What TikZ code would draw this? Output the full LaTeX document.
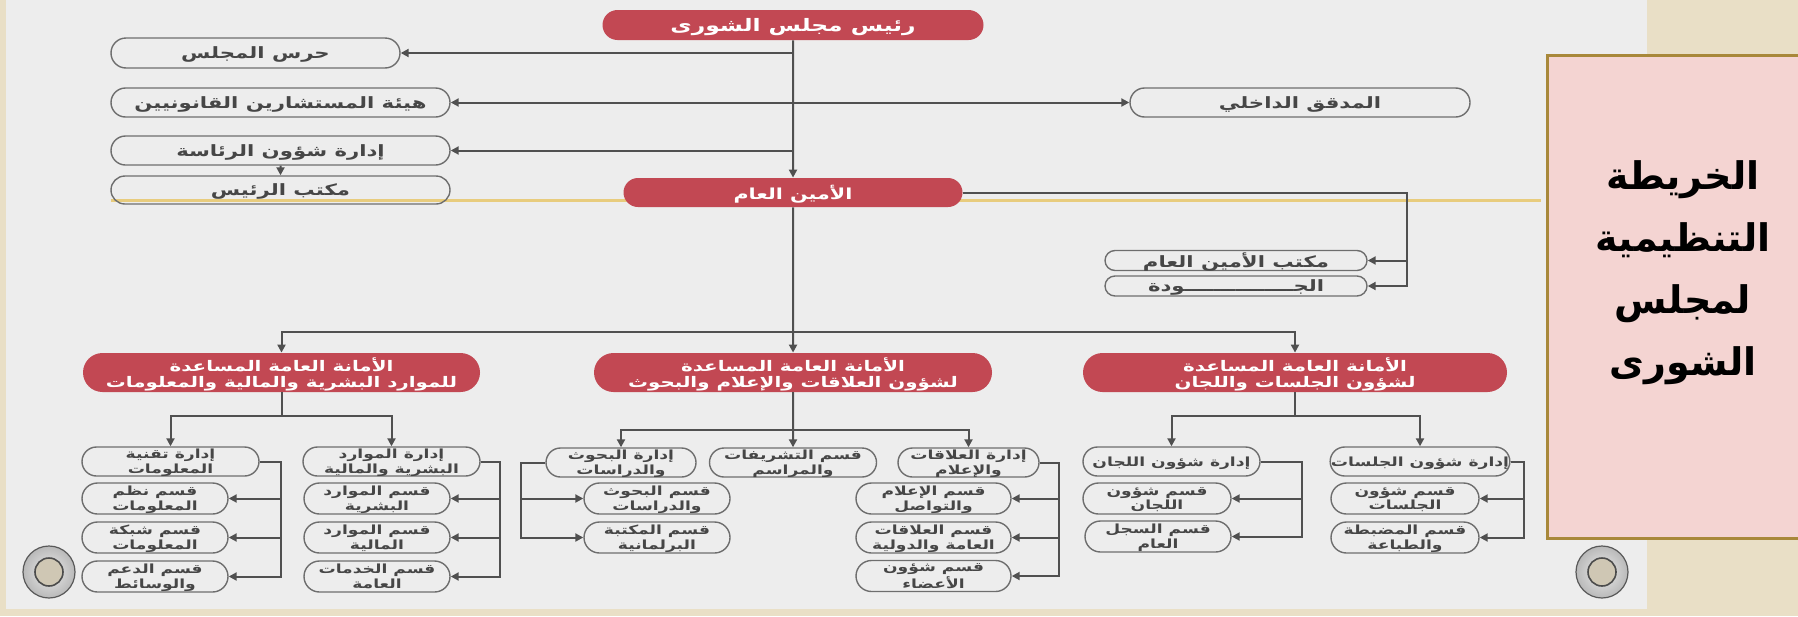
\documentclass[tikz,border=0pt]{standalone}
\usepackage{fontspec}
\TeXXeTstate=1
\newfontfamily\arabicfont[Script=Arabic,FakeStretch=1.36]{DejaVu Sans Bold}
\newfontfamily\titlefont[Script=Arabic]{DejaVu Sans}
\usetikzlibrary{arrows.meta,shapes.misc}
\newcommand{\ar}[1]{\beginR #1\endR}
\definecolor{canvas}{RGB}{237,237,237}
\definecolor{beige}{RGB}{233,223,198}
\definecolor{linegray}{RGB}{80,80,80}
\definecolor{boxgray}{RGB}{110,110,110}
\definecolor{textgray}{RGB}{70,70,70}
\definecolor{redbox}{RGB}{194,72,83}
\definecolor{pinkbox}{RGB}{244,212,210}
\definecolor{goldbrown}{RGB}{168,136,58}
\definecolor{goldline}{RGB}{232,204,125}
\begin{document}
\begin{tikzpicture}[x=0.5pt, y=-0.5pt,
  line/.style={draw=linegray, line width=1pt},
  conn/.style={line, -{Triangle[length=4pt,width=4pt]}},
  conn2/.style={line, {Triangle[length=4pt,width=4pt]}-{Triangle[length=4pt,width=4pt]}},
  box/.style={rounded rectangle, draw=boxgray, line width=0.7pt, inner sep=0pt, text depth=0pt, text=textgray, align=center, font=\arabicfont\fontsize{6.3}{6.3}\selectfont},
  big box/.style={box, font=\arabicfont\fontsize{7.8}{8}\selectfont},
  red node/.style={rounded rectangle, fill=redbox, inner sep=0pt, text depth=0pt, text=white, align=center, font=\arabicfont\fontsize{7.3}{7.7}\selectfont},
  wd/.style={minimum width=#1*0.5pt},
  ht/.style={minimum height=#1*0.5pt}]
\useasboundingbox (0,0) rectangle (1798,616);
% background
\fill[beige] (0,0) rectangle (1798,616);
\fill[canvas] (6,0) rectangle (1647,609);
\draw[goldline, line width=1.5pt] (111,200) -- (1541,200);
\draw[fill=pinkbox, draw=goldbrown, line width=1.5pt] (1547,55) rectangle (1802,538);
\node[font=\titlefont\bfseries\fontsize{19}{31}\selectfont, align=center] (title) at (1683,273) {\ar{الخريطة}\\\ar{التنظيمية}\\\ar{لمجلس}\\\ar{الشورى}};
\foreach \gx/\gy in {49/572, 1602/572} {
  \shade[inner color=gray!15, outer color=gray!55, draw=gray!70!black, line width=0.6pt] (\gx,\gy) circle (13pt);
  \draw[fill=beige!75!gray, draw=gray!60!black, line width=0.8pt] (\gx,\gy) circle (7pt);
}
% president and general secretary
\begin{scope}
\node[red node, wd=381, ht=30, font=\arabicfont\fontsize{8.6}{9}\selectfont] (pres) at (793,25) {\ar{رئيس مجلس الشورى}};
\node[big box, wd=289, ht=30] (guard) at (255.5,53) {\ar{حرس المجلس}};
\node[big box, wd=339, ht=29] (legal) at (280.5,102.5) {\ar{هيئة المستشارين القانونيين}};
\node[big box, wd=339, ht=29] (presaff) at (280.5,150.5) {\ar{إدارة شؤون الرئاسة}};
\node[big box, wd=339, ht=28] (presoff) at (280.5,190) {\ar{مكتب الرئيس}};
\node[big box, wd=340, ht=29] (audit) at (1300,102.5) {\ar{المدقق الداخلي}};
\node[red node, wd=339, ht=29, font=\arabicfont\fontsize{7.6}{8}\selectfont] (sg) at (793,192.5) {\ar{الأمين العام}};
\node[big box, wd=262, ht=20] (sgoff) at (1236,260.5) {\ar{مكتب الأمين العام}};
\node[big box, wd=262, ht=20] (quality) at (1236,286) {\ar{الجـــــــــــــــودة}};
\end{scope}
\draw[conn] (pres) -- (sg);
\draw[conn] (pres.south |- guard.east) -- (guard.east);
\draw[conn2] (legal.east) -- (audit.west);
\draw[conn] (pres.south |- presaff.east) -- (presaff.east);
\draw[conn] (presaff) -- (presoff);
\coordinate (sgx) at (1407,192.5);
\draw[conn] (sg.east) -- (sgx) |- (quality.east);
\draw[conn] (sgx |- sgoff.east) -- (sgoff.east);
% assistant secretariats
\node[red node, wd=397, ht=39] (hr) at (281.5,372.5) {\ar{الأمانة العامة المساعدة}\\\ar{للموارد البشرية والمالية والمعلومات}};
\node[red node, wd=398, ht=39] (media) at (793,372.5) {\ar{الأمانة العامة المساعدة}\\\ar{لشؤون العلاقات والإعلام والبحوث}};
\node[red node, wd=424, ht=39] (sess) at (1295,372.5) {\ar{الأمانة العامة المساعدة}\\\ar{لشؤون الجلسات واللجان}};
\coordinate (bus) at (793,332);
\draw[conn] (sg) -- (media);
\draw[conn] (bus) -| (hr.north);
\draw[conn] (bus) -| (sess.north);
% human resources
\node[box, wd=177, ht=29] (it) at (170.5,461.5) {\ar{إدارة تقنية}\\\ar{المعلومات}};
\node[box, wd=146, ht=31] (it1) at (155,498.5) {\ar{قسم نظم}\\\ar{المعلومات}};
\node[box, wd=146, ht=31] (it2) at (155,537.5) {\ar{قسم شبكة}\\\ar{المعلومات}};
\node[box, wd=146, ht=31] (it3) at (155,576.5) {\ar{قسم الدعم}\\\ar{والوسائط}};
\node[box, wd=177, ht=29] (fin) at (391.5,461.5) {\ar{إدارة الموارد}\\\ar{البشرية والمالية}};
\node[box, wd=146, ht=31] (fin1) at (377,498.5) {\ar{قسم الموارد}\\\ar{البشرية}};
\node[box, wd=146, ht=31] (fin2) at (377,537.5) {\ar{قسم الموارد}\\\ar{المالية}};
\node[box, wd=146, ht=31] (fin3) at (377,576.5) {\ar{قسم الخدمات}\\\ar{العامة}};
\draw[conn] (hr.south) -- ++(0,24) -| (it.north);
\draw[conn] (hr.south) -- ++(0,24) -| (fin.north);
\draw[conn] (it.east) -- ++(21,0) |- (it1.east);
\draw[conn] (it.east) -- ++(21,0) |- (it2.east);
\draw[conn] (it.east) -- ++(21,0) |- (it3.east);
\draw[conn] (fin.east) -- ++(19,0) |- (fin1.east);
\draw[conn] (fin.east) -- ++(19,0) |- (fin2.east);
\draw[conn] (fin.east) -- ++(19,0) |- (fin3.east);
% relations, media and research
\node[box, wd=150, ht=29] (res) at (621,462.5) {\ar{إدارة البحوث}\\\ar{والدراسات}};
\node[box, wd=167, ht=29] (prot) at (793,462.5) {\ar{قسم التشريفات}\\\ar{والمراسم}};
\node[box, wd=141, ht=29] (rel) at (968.5,462.5) {\ar{إدارة العلاقات}\\\ar{والإعلام}};
\node[box, wd=146, ht=31] (res1) at (657,498.5) {\ar{قسم البحوث}\\\ar{والدراسات}};
\node[box, wd=146, ht=31] (res2) at (657,537.5) {\ar{قسم المكتبة}\\\ar{البرلمانية}};
\node[box, wd=155, ht=31] (rel1) at (933.5,498.5) {\ar{قسم الإعلام}\\\ar{والتواصل}};
\node[box, wd=155, ht=31] (rel2) at (933.5,537.5) {\ar{قسم العلاقات}\\\ar{العامة والدولية}};
\node[box, wd=155, ht=31] (rel3) at (933.5,576) {\ar{قسم شؤون}\\\ar{الأعضاء}};
\draw[conn] (media.south) -- ++(0,38) -| (res.north);
\draw[conn] (media) -- (prot);
\draw[conn] (media.south) -- ++(0,38) -| (rel.north);
\draw[conn] (res.west) -- ++(-24,0) |- (res1.west);
\draw[conn] (res.west) -- ++(-24,0) |- (res2.west);
\draw[conn] (rel.east) -- ++(19,0) |- (rel1.east);
\draw[conn] (rel.east) -- ++(19,0) |- (rel2.east);
\draw[conn] (rel.east) -- ++(19,0) |- (rel3.east);
% sessions and committees
\node[box, wd=177, ht=29] (com) at (1171.5,461.5) {\ar{إدارة شؤون اللجان}};
\node[box, wd=148, ht=31] (com1) at (1157,498.5) {\ar{قسم شؤون}\\\ar{اللجان}};
\node[box, wd=146, ht=31] (com2) at (1158,536.5) {\ar{قسم السجل}\\\ar{العام}};
\node[box, wd=178, ht=29] (ses) at (1420,461.5) {\ar{إدارة شؤون الجلسات}};
\node[box, wd=148, ht=31] (ses1) at (1405,498.5) {\ar{قسم شؤون}\\\ar{الجلسات}};
\node[box, wd=148, ht=31] (ses2) at (1405,537.5) {\ar{قسم المضبطة}\\\ar{والطباعة}};
\draw[conn] (sess.south) -- ++(0,24) -| (com.north);
\draw[conn] (sess.south) -- ++(0,24) -| (ses.north);
\draw[conn] (com.east) -- ++(41,0) |- (com1.east);
\draw[conn] (com.east) -- ++(41,0) |- (com2.east);
\draw[conn] (ses.east) -- ++(13,0) |- (ses1.east);
\draw[conn] (ses.east) -- ++(13,0) |- (ses2.east);
\end{tikzpicture}
\end{document}
